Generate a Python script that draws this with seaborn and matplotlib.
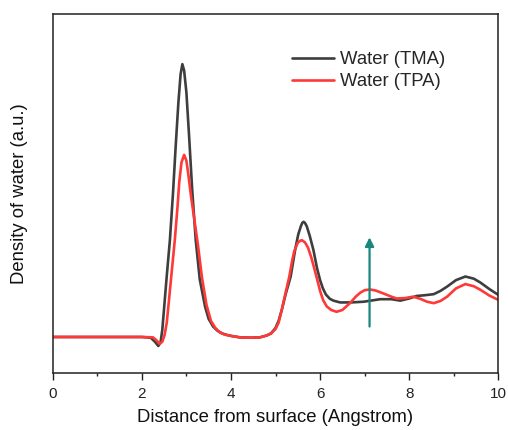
import matplotlib
matplotlib.use("Agg")
import matplotlib.pyplot as plt
from matplotlib.ticker import MultipleLocator, NullLocator
import seaborn as sns
import pandas as pd

# Water density profiles versus distance from the surface (arbitrary units)
tma_x = [0.0, 1.0, 2.0, 2.2, 2.3, 2.37, 2.42, 2.46, 2.50, 2.56, 2.63, 2.70, 2.76,
         2.82, 2.87, 2.91, 2.95, 3.00, 3.06, 3.13, 3.21, 3.30, 3.42, 3.50, 3.60,
         3.70, 3.80, 3.90, 4.00, 4.20, 4.45, 4.65, 4.80, 4.90, 5.00, 5.07, 5.14,
         5.23, 5.34, 5.44, 5.51, 5.57, 5.60, 5.63, 5.66, 5.70, 5.77, 5.85, 5.93,
         6.00, 6.06, 6.13, 6.22, 6.30, 6.45, 6.70, 6.98, 7.35, 7.60, 7.80, 8.00,
         8.17, 8.35, 8.55, 8.70, 8.85, 9.05, 9.26, 9.45, 9.60, 9.80, 10.0]
tma_y = [1.00, 1.00, 1.00, 0.98, 0.86, 0.75, 0.85, 1.20, 1.80, 2.70, 3.69, 5.00, 6.30,
         7.50, 8.30, 8.58, 8.40, 7.80, 6.60, 5.10, 3.69, 2.60, 1.84, 1.50, 1.29,
         1.17, 1.10, 1.06, 1.03, 0.99, 0.98, 0.99, 1.04, 1.10, 1.25, 1.45, 1.75,
         2.20, 2.68, 3.42, 3.85, 4.08, 4.17, 4.20, 4.17, 4.08, 3.80, 3.42, 2.92,
         2.58, 2.36, 2.18, 2.06, 2.01, 1.96, 1.96, 1.98, 2.05, 2.05, 2.01, 2.07,
         2.14, 2.16, 2.19, 2.28, 2.40, 2.58, 2.68, 2.62, 2.51, 2.33, 2.17]

tpa_x = [0.0, 1.0, 2.0, 2.25, 2.32, 2.40, 2.46, 2.51, 2.56, 2.61, 2.67, 2.74, 2.80,
         2.84, 2.89, 2.95, 3.00, 3.04, 3.10, 3.18, 3.26, 3.35, 3.45, 3.55, 3.65,
         3.75, 3.85, 4.00, 4.20, 4.45, 4.65, 4.80, 4.90, 5.00, 5.07, 5.14, 5.22,
         5.31, 5.37, 5.42, 5.50, 5.55, 5.59, 5.66, 5.73, 5.80, 5.86, 5.93, 6.00,
         6.07, 6.15, 6.25, 6.37, 6.50, 6.67, 6.80, 6.90, 7.00, 7.12, 7.25, 7.42,
         7.60, 7.72, 7.90, 8.09, 8.25, 8.40, 8.55, 8.70, 8.85, 9.05, 9.26, 9.45,
         9.60, 9.80, 10.0]
tpa_y = [1.00, 1.00, 1.00, 0.99, 0.92, 0.81, 0.87, 1.05, 1.40, 2.03, 2.80, 3.69, 4.60,
         5.30, 5.85, 6.06, 5.90, 5.55, 4.95, 4.25, 3.55, 2.65, 1.90, 1.45, 1.25,
         1.13, 1.07, 1.03, 0.99, 0.98, 0.99, 1.04, 1.10, 1.22, 1.40, 1.75, 2.20,
         2.68, 3.10, 3.38, 3.62, 3.67, 3.69, 3.63, 3.48, 3.22, 2.95, 2.62, 2.28,
         2.02, 1.85, 1.75, 1.70, 1.75, 1.94, 2.12, 2.23, 2.30, 2.32, 2.29, 2.21,
         2.12, 2.07, 2.08, 2.12, 2.06, 1.98, 1.94, 2.00, 2.12, 2.35, 2.47, 2.41,
         2.31, 2.15, 2.03]

series_names = ["Water (TMA)", "Water (TPA)"]
series_colors = ["#3e3e3e", "#ff3838"]

# Arrow marking the rise of the TPA shoulder
arrow_x = 7.11
arrow_y0 = 1.29
arrow_y1 = 3.77

x_ticks = [0, 2, 4, 6, 8, 10]

df = pd.concat([
    pd.DataFrame({"x": tma_x, "y": tma_y, "series": series_names[0]}),
    pd.DataFrame({"x": tpa_x, "y": tpa_y, "series": series_names[1]}),
], ignore_index=True)

sns.set_theme(style="white")
plt.rcParams["font.family"] = ["Liberation Sans", "DejaVu Sans"]

fig = plt.figure(figsize=(5.08, 4.30), dpi=100)
ax = fig.add_axes([0.1037, 0.1326, 0.8773, 0.8337])

sns.lineplot(data=df, x="x", y="y", hue="series", hue_order=series_names,
             palette=series_colors, estimator=None, sort=False, lw=1.9,
             ax=ax, legend=True)
for line in ax.get_lines():
    line.set_solid_joinstyle("round")

ax.annotate("", xy=(arrow_x, arrow_y1), xytext=(arrow_x, arrow_y0),
            arrowprops=dict(arrowstyle="-|>", color="#17877f", lw=1.6,
                            mutation_scale=13, shrinkA=0, shrinkB=0))

ax.set_xlim(0, 10)
ax.set_ylim(0, 9.96)
ax.set_xticks(x_ticks)
ax.set_xticklabels([str(t) for t in x_ticks], fontsize=11, color="#222222")
ax.xaxis.set_minor_locator(MultipleLocator(1))
ax.yaxis.set_major_locator(NullLocator())
ax.tick_params(axis="x", which="major", direction="out", length=5, width=1,
               color="#222222", pad=5, bottom=True)
ax.tick_params(axis="x", which="minor", direction="out", length=2.5, width=1,
               color="#222222", bottom=True)

for s in ax.spines.values():
    s.set_visible(True)
    s.set_color("#222222")
    s.set_linewidth(1.1)

ax.set_xlabel("Distance from surface (Angstrom)", fontsize=13.3, color="#111111",
              labelpad=6)
ax.set_ylabel("Density of water (a.u.)", fontsize=13.3, color="#111111",
              labelpad=18)

handles, labels = ax.get_legend_handles_labels()
ax.legend(handles, labels, loc="upper left", bbox_to_anchor=(0.537, 0.898),
          frameon=False, fontsize=13.3, handlelength=2.3, handletextpad=0.3,
          labelspacing=0.28, borderpad=0, borderaxespad=0)

fig.savefig("out.png", dpi=100)
